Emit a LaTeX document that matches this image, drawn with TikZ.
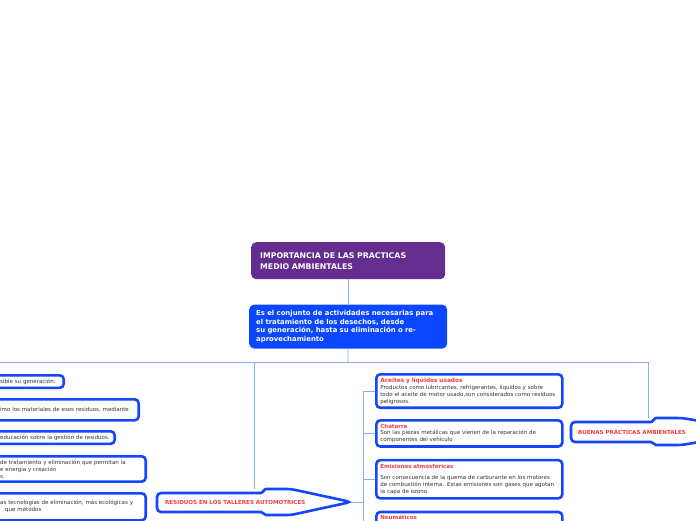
\documentclass[tikz,border=0pt]{standalone}
\usepackage{fontspec}
\setmainfont{DejaVu Sans}
\usetikzlibrary{positioning}

\definecolor{topPurple}{HTML}{662D91}
\definecolor{defBlue}{HTML}{0A47FF}
\definecolor{boxBlue}{HTML}{1446FF}
\definecolor{lineBlue}{HTML}{8CA8FF}
\definecolor{titleRed}{HTML}{F03C46}
\definecolor{bodyGray}{HTML}{333333}

\newcommand{\leafhead}[1]{{\color{titleRed}\bfseries #1}}

\begin{document}
\begin{tikzpicture}[x = 1pt, y = -1pt,
	line/.style = {draw = lineBlue, line width = 0.8pt},
	topbox/.style = {fill = topPurple, text = white, rounded corners = 5pt, minimum width = 194pt, minimum height = 37pt, text width = 176pt, inner xsep = 9pt, align = left, font = \fontsize{7.8}{11}\selectfont\bfseries},
	defbox/.style = {fill = defBlue, text = white, rounded corners = 5pt, minimum width = 198pt, minimum height = 44pt, text width = 184pt, inner xsep = 7pt, align = left, font = \fontsize{6.9}{8.7}\selectfont\bfseries},
	leaf/.style = {draw = boxBlue, line width = 2.6pt, rounded corners = 4pt, fill = white, text = bodyGray, align = left, font = \fontsize{5.5}{6.9}\selectfont, inner xsep = 5pt, inner ysep = 3.5pt},
	leafR/.style = {leaf, anchor = north west, text width = 178pt, inner xsep = 4pt},
	leafL/.style = {leaf, anchor = north east, text width = #1},
	callout/.style = {draw = boxBlue, line width = 2.6pt, fill = white, rounded corners = 4pt},
	callText/.style = {text = titleRed, anchor = west, inner sep = 0pt, font = \fontsize{5.55}{6.5}\selectfont\bfseries}
]

\useasboundingbox (0,0) rectangle (696,520);

% centre
\node[topbox, anchor = north west]	(importancia)	at (251,242)	{IMPORTANCIA DE LAS PRACTICAS\\MEDIO AMBIENTALES};
\node[defbox, below = 25pt of importancia]	(definicion)	{Es el conjunto de actividades necesarias para\\el tratamiento de los desechos, desde\\su generación, hasta su eliminación o re-\\aprovechamiento};

\coordinate (hub)		at (348,362);
\coordinate (railL)		at (0,362);
\coordinate (railM)		at (254,362);
\coordinate (railR)		at (648,362);
\coordinate (residuosTop)	at (254,489);
\coordinate (buenasTop)		at (648,418);
\coordinate (residuosTip)	at (351,502);
\coordinate (spineTop)		at (363,391);
\coordinate (spineMid)		at (363,502);
\coordinate (spineBot)		at (363,530);

% connectors
\path[line]	(importancia)	edge	(definicion);
\path[line]	(definicion)	edge	(hub);
\path[line]	(railL)			edge	(railR);
\path[line]	(railM)			edge	(residuosTop);
\path[line]	(railR)			edge	(buenasTop);
\path[line]	(residuosTip)	edge	(spineMid);
\path[line]	(spineTop)		edge	(spineBot);

% callouts
\draw[callout] (157,493) -- (257,493) to[out = 0, in = 180] (270,489) -- (291,489) -- (residuosTip) -- (291,515) -- (270,515) to[out = 180, in = 0] (257,512) -- (157,512) -- cycle;
\node[callText]	(residuos)	at (165,502.5)	{RESIDUOS EN LOS TALLERES AUTOMOTRICES};

\draw[callout] (571,422) -- (647,422) to[out = 0, in = 180] (660,418) -- (682,418) -- (760,431) -- (682,445) -- (660,445) to[out = 180, in = 0] (647,442) -- (571,442) -- cycle;
\node[callText]	(buenas)	at (578,432)	{BUENAS PRACTICAS AMBIENTALES};

% right column
\node[leafR]	(aceites)	at (375,373)	{{\color{titleRed}\bfseries\fontsize{5.8}{7.5}\selectfont Aceites y líquidos usados}\\Productos como lubricantes, refrigerantes, líquidos y sobre\\todo el aceite de motor usado,son considerados como residuos\\peligrosos.};
\node[leafR, below = 10pt of aceites.south west, anchor = north west]	(chatarra)	{\leafhead{Chatarra}\\Son las piezas metálicas que vienen de la reparación de\\componentes del vehículo};
\node[leafR, below = 11pt of chatarra.south west, anchor = north west]	(emisiones)	{\leafhead{Emisiones atmosféricas}\\[5pt]Son consecuencia de la quema de carburante en los motores\\de combustión interna. Estas emisiones son gases que agotan\\la capa de ozono};
\node[leafR, below = 11pt of emisiones.south west, anchor = north west]	(neumaticos)	{\leafhead{Neumáticos}\\\mbox{}\\\mbox{}\\\mbox{}};

\path[line]	(aceites.west -| spineTop)		edge	(aceites.west);
\path[line]	(chatarra.west -| spineTop)		edge	(chatarra.west);
\path[line]	(emisiones.west -| spineTop)	edge	(emisiones.west);
\path[line]	(neumaticos.west -| spineTop)	edge	(neumaticos.west);

% left column
\node[leafL = 58.5pt]	(reducir)		at (65,374)		{\mbox{sible su generación.}};
\node[leafL = 133.5pt, minimum height = 21pt]	(reciclar)	at (140,398)	{\mbox{imo los materiales de esos residuos, mediante}};
\node[leafL = 109.5pt]	(educar)		at (116,430)	{\mbox{educación sobre la gestión de residuos.}};
\node[leafL = 140.5pt]	(tratar)		at (147,455)	{de tratamiento y eliminación que permitan la\\e energía y creación\\s.};
\node[leafL = 140.5pt, minimum height = 27pt]	(tecnologias)	at (147,492)	{as tecnologías de eliminación, más ecológicas y\\\hspace*{5pt}que métodos};

\end{tikzpicture}
\end{document}
